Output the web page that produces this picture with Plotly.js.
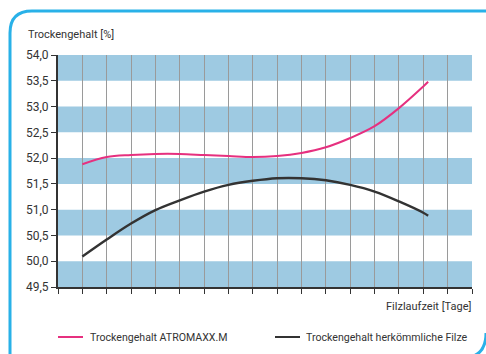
<!DOCTYPE html>
<html>
<head>
<meta charset="utf-8">
<script src="https://cdn.plot.ly/plotly-3.0.1.min.js"></script>
<style>
html,body{margin:0;padding:0;background:#fff;}
#chart{width:486px;height:354px;}
</style>
</head>
<body>
<div id="chart"></div>
<script>
const days = [1, 2, 3, 4, 5, 6, 7, 8, 9, 10, 11, 12, 13, 14, 15, 15.2];
const atromaxx = [51.88, 52.02, 52.06, 52.08, 52.08, 52.06, 52.04, 52.02, 52.04, 52.10, 52.21, 52.39, 52.62, 52.97, 53.39, 53.48];
const herkoemmlich = [50.09, 50.42, 50.73, 50.99, 51.18, 51.35, 51.48, 51.56, 51.61, 51.61, 51.57, 51.48, 51.35, 51.16, 50.94, 50.88];
const seriesNames = ['Trockengehalt ATROMAXX.M', 'Trockengehalt herkömmliche Filze'];
const seriesColors = ['#e6307f', '#333333'];
const bandRanges = [[49.5, 50], [50.5, 51], [51.5, 52], [52.5, 53], [53.5, 54]];
const yTitle = 'Trockengehalt [%]';
const xTitle = 'Filzlaufzeit [Tage]';

const W = 486, H = 354;
const M = {l: 58, r: 14, t: 55, b: 67};
const PW = W - M.l - M.r, PH = H - M.t - M.b;
const px = X => (X - M.l) / PW;
const py = Y => (H - M.b - Y) / PH;
const FONT = 'Roboto, Arial, sans-serif';

const shapes = bandRanges.map(r => ({
  type: 'rect', xref: 'paper', yref: 'y', x0: 0, x1: 1, y0: r[0], y1: r[1],
  fillcolor: '#9ecae2', line: {width: 0}, layer: 'below'
}));

// frame: top-left rounded corner + left/top border
const f = v => v.toFixed(5);
const frame1 = 'M ' + f(px(488)) + ',' + f(py(11)) + ' L ' + f(px(32)) + ',' + f(py(11)) +
  ' Q ' + f(px(10)) + ',' + f(py(11)) + ' ' + f(px(10)) + ',' + f(py(33)) +
  ' L ' + f(px(10)) + ',' + f(py(358));
const frame2 = 'M ' + f(px(486)) + ',' + f(py(333)) +
  ' Q ' + f(px(486)) + ',' + f(py(358)) + ' ' + f(px(462)) + ',' + f(py(358));
shapes.push({type: 'path', xref: 'paper', yref: 'paper', path: frame1, line: {color: '#29b1e8', width: 3}, layer: 'above'});
shapes.push({type: 'path', xref: 'paper', yref: 'paper', path: frame2, line: {color: '#29b1e8', width: 3}, layer: 'above'});

// manual legend
const legendItems = [{x0: 58, x1: 83, tx: 90}, {x0: 275, x1: 300, tx: 306}];
const legendY = 337;
const annotations = [
  {text: yTitle, xref: 'paper', yref: 'paper', x: px(26), y: py(34), xanchor: 'left', yanchor: 'middle', showarrow: false, font: {family: FONT, size: 11, color: '#333'}},
  {text: xTitle, xref: 'paper', yref: 'paper', x: px(474), y: py(306.5), xanchor: 'right', yanchor: 'middle', showarrow: false, font: {family: FONT, size: 11, color: '#333'}}
];
legendItems.forEach((it, i) => {
  shapes.push({type: 'line', xref: 'paper', yref: 'paper', x0: px(it.x0), x1: px(it.x1), y0: py(legendY), y1: py(legendY),
    line: {color: seriesColors[i], width: 2}});
  annotations.push({text: seriesNames[i], xref: 'paper', yref: 'paper', x: px(it.tx - 2), y: py(legendY), xanchor: 'left', yanchor: 'middle',
    showarrow: false, font: {family: FONT, size: 10.6, color: '#333'}});
});

const data = [
  {x: days, y: atromaxx, name: seriesNames[0], mode: 'lines', line: {color: seriesColors[0], width: 2, shape: 'spline', smoothing: 1}},
  {x: days, y: herkoemmlich, name: seriesNames[1], mode: 'lines', line: {color: seriesColors[1], width: 2.4, shape: 'spline', smoothing: 1}}
];

const layout = {
  width: W, height: H,
  margin: M,
  paper_bgcolor: '#fff', plot_bgcolor: '#fff',
  separators: ',.',
  font: {family: FONT, size: 12, color: '#333'},
  showlegend: false,
  xaxis: {
    range: [0, 17], dtick: 1, tick0: 0, showticklabels: false,
    ticks: 'outside', ticklen: 5, tickcolor: '#333', tickwidth: 1,
    showgrid: true, gridcolor: '#9a9a9a', gridwidth: 1,
    showline: true, linecolor: '#333', linewidth: 2, zeroline: false, fixedrange: true
  },
  yaxis: {
    range: [49.5, 54], dtick: 0.5, tick0: 49.5, tickformat: '.1f',
    ticks: 'outside', ticklen: 5, tickcolor: '#333', tickwidth: 1,
    showgrid: false, showline: true, linecolor: '#333', linewidth: 2, zeroline: false,
    tickfont: {family: FONT, size: 12, color: '#333'}, fixedrange: true
  },
  shapes: shapes,
  annotations: annotations
};

Plotly.newPlot('chart', data, layout, {displayModeBar: false, staticPlot: true});
</script>
</body>
</html>
